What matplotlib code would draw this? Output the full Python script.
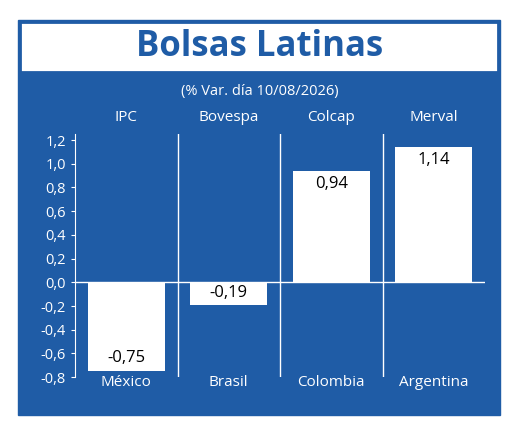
import matplotlib
matplotlib.use('Agg')
import matplotlib.pyplot as plt
import matplotlib.patches as mpatches

indices = ['IPC', 'Bovespa', 'Colcap', 'Merval']
countries = ['México', 'Brasil', 'Colombia', 'Argentina']
values = [-0.75, -0.19, 0.94, 1.14]
yticks = [-0.8, -0.6, -0.4, -0.2, 0.0, 0.2, 0.4, 0.6, 0.8, 1.0, 1.2]

blue = '#1f5ca6'
plt.rcParams['font.family'] = ['Open Sans', 'DejaVu Sans']

fig = plt.figure(figsize=(5.2, 4.3), dpi=100)
fig.patches.append(mpatches.Rectangle((18/520, 1-415/430), 482/520, 395/430,
                                      transform=fig.transFigure, color=blue, zorder=-2))
fig.patches.append(mpatches.Rectangle((20/520, 1-72/430), 478/520, 50/430,
                                      transform=fig.transFigure, facecolor='white',
                                      edgecolor=blue, lw=2, zorder=-1))
fig.text(0.5, 1-47/430, 'Bolsas Latinas', ha='center', va='center',
         color=blue, fontsize=25, fontweight='bold')
fig.text(0.5, 1-92/430, '(% Var. día 10/08/2026)', ha='center', va='center',
         color='white', fontsize=10.5)

ax = fig.add_axes([75/520, 0.123, 410/520, 0.565])
ax.set_facecolor(blue)
x = range(len(values))
ax.bar(x, values, width=0.75, color='white')
ax.set_xlim(-0.5, 3.5)
ax.set_ylim(-0.8, 1.25)
for xs in [0.5, 1.5, 2.5]:
    ax.axvline(xs, color='white', lw=1)
ax.axhline(0, color='white', lw=1)
for i, v in enumerate(values):
    y = v - 0.04 if v > 0 else v + 0.04
    va = 'top' if v > 0 else 'bottom'
    if abs(v) < 0.3:
        y, va = v + 0.03, 'bottom'
    ax.text(i, y, f'{v:.2f}'.replace('.', ','), ha='center', va=va,
            fontsize=12, color='black')
    ax.text(i, 1.33, indices[i], ha='center', va='bottom', color='white', fontsize=11)
    ax.text(i, -0.78, countries[i], ha='center', va='top', color='white', fontsize=11)
ax.set_yticks(yticks)
ax.set_yticklabels([f'{t:.1f}'.replace('.', ',') for t in yticks], color='white', fontsize=10.5)
ax.set_xticks([])
ax.tick_params(axis='y', colors='white', length=3)
for s in ['top', 'right', 'bottom']:
    ax.spines[s].set_visible(False)
ax.spines['left'].set_color('white')

fig.savefig('out.png', dpi=100, facecolor='white')
